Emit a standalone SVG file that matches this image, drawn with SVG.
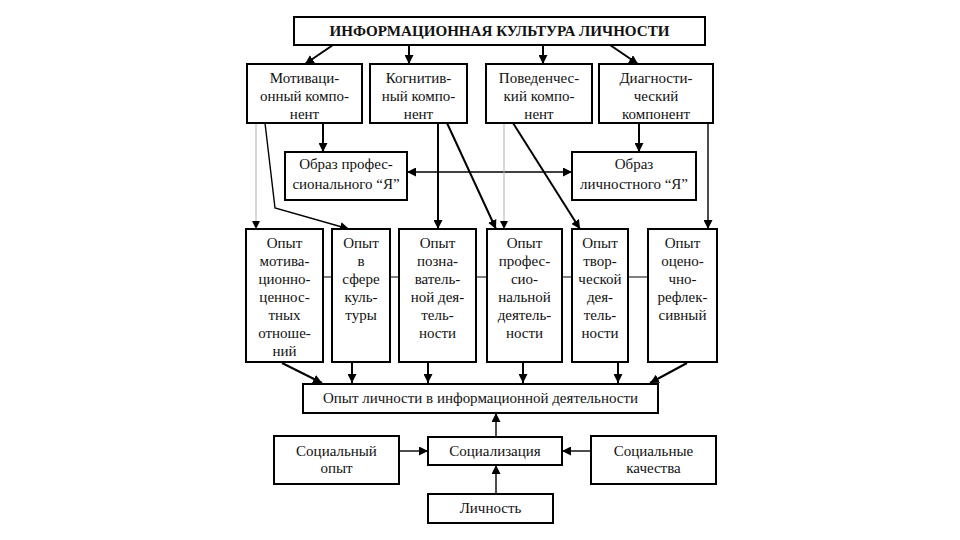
<svg xmlns="http://www.w3.org/2000/svg" width="960" height="540" viewBox="0 0 960 540">
<defs>
<style>
.box{fill:#fff;stroke:#000;stroke-width:2}
.t{font-size:15px;fill:#111;text-anchor:middle}
.b{font-weight:bold}
.c{fill:none;stroke:#000;stroke-width:2}
.m{fill:none;stroke:#000;stroke-width:1.4}
.g{fill:none;stroke:#b0b0b0;stroke-width:1}
</style>
<marker id="ah" viewBox="0 0 10 10" refX="10" refY="5" markerWidth="9" markerHeight="9" markerUnits="userSpaceOnUse" orient="auto-start-reverse">
<path d="M0,0 L10,5 L0,10 z" fill="#000"/>
</marker>
<marker id="ahg" viewBox="0 0 10 10" refX="10" refY="5" markerWidth="8" markerHeight="8" markerUnits="userSpaceOnUse" orient="auto">
<path d="M0,0 L10,5 L0,10 z" fill="#000"/>
</marker>
</defs>
<rect width="960" height="540" fill="#fff"/>
<g id="connectors">
<line class="c" x1="333" y1="45" x2="305" y2="64" marker-end="url(#ah)"/>
<line class="c" x1="409" y1="45" x2="409" y2="64" marker-end="url(#ah)"/>
<line class="c" x1="543" y1="45" x2="543" y2="64" marker-end="url(#ah)"/>
<line class="c" x1="610" y1="45" x2="638" y2="64" marker-end="url(#ah)"/>
<line class="c" x1="323" y1="123" x2="323" y2="152" marker-end="url(#ah)"/>
<line class="c" x1="639" y1="123" x2="639" y2="152" marker-end="url(#ah)"/>
<line class="m" x1="407" y1="172" x2="572" y2="172" marker-start="url(#ah)" marker-end="url(#ah)"/>
<line class="g" x1="256" y1="123" x2="256" y2="229" marker-end="url(#ahg)"/>
<polyline class="m" points="265,123 275,208 349,229" marker-end="url(#ah)"/>
<line class="c" x1="438" y1="123" x2="438" y2="229" marker-end="url(#ah)"/>
<line class="c" x1="447" y1="123" x2="496" y2="229" marker-end="url(#ah)"/>
<line class="g" x1="504" y1="123" x2="504" y2="229" marker-end="url(#ahg)"/>
<line class="c" x1="513" y1="123" x2="580" y2="229" marker-end="url(#ah)"/>
<line class="m" x1="708" y1="123" x2="708" y2="229" marker-end="url(#ah)"/>
<line stroke="#000" stroke-width="1" x1="246" y1="277" x2="717" y2="277"/>
<line class="c" x1="282" y1="363" x2="322" y2="383" marker-end="url(#ah)"/>
<line class="c" x1="352" y1="363" x2="352" y2="383" marker-end="url(#ah)"/>
<line class="c" x1="428" y1="363" x2="428" y2="383" marker-end="url(#ah)"/>
<line class="c" x1="523" y1="363" x2="523" y2="383" marker-end="url(#ah)"/>
<line class="c" x1="618" y1="363" x2="618" y2="383" marker-end="url(#ah)"/>
<line class="c" x1="687" y1="363" x2="650" y2="383" marker-end="url(#ah)"/>
<line class="m" x1="496" y1="437" x2="496" y2="413" marker-end="url(#ah)"/>
<line class="m" x1="399" y1="451" x2="428" y2="451" marker-end="url(#ah)"/>
<line class="m" x1="591" y1="451" x2="562" y2="451" marker-end="url(#ah)"/>
<line class="m" x1="496" y1="494" x2="496" y2="465" marker-end="url(#ah)"/>
</g>
<g id="title"><rect class="box" x="294" y="17" width="411" height="28"/><text class="t b" style="font-family:'Liberation Serif',serif" x="499.5" y="36" textLength="340" lengthAdjust="spacingAndGlyphs">ИНФОРМАЦИОННАЯ КУЛЬТУРА ЛИЧНОСТИ</text></g>
<g id="motiv"><rect class="box" x="247" y="64" width="115" height="59"/><text class="t" style="font-family:'Liberation Serif',serif" x="304.5" y="83"><tspan x="304.5">Мотиваци-</tspan><tspan x="304.5" dy="18">онный компо-</tspan><tspan x="304.5" dy="18">нент</tspan></text></g>
<g id="kogn"><rect class="box" x="370" y="64" width="97" height="59"/><text class="t" style="font-family:'Liberation Serif',serif" x="418.5" y="83"><tspan x="418.5">Когнитив-</tspan><tspan x="418.5" dy="18">ный компо-</tspan><tspan x="418.5" dy="18">нент</tspan></text></g>
<g id="poved"><rect class="box" x="486" y="64" width="106" height="59"/><text class="t" style="font-family:'Liberation Serif',serif" x="539" y="83"><tspan x="539">Поведенчес-</tspan><tspan x="539" dy="18">кий компо-</tspan><tspan x="539" dy="18">нент</tspan></text></g>
<g id="diagn"><rect class="box" x="599" y="64" width="114" height="59"/><text class="t" style="font-family:'Liberation Serif',serif" x="656" y="83"><tspan x="656">Диагности-</tspan><tspan x="656" dy="18">ческий</tspan><tspan x="656" dy="18">компонент</tspan></text></g>
<g id="obraz-prof"><rect class="box" x="285" y="152" width="122" height="48"/><text class="t" style="font-family:'Liberation Serif',serif" x="346" y="169"><tspan x="346">Образ профес-</tspan><tspan x="346" dy="20">сионального “Я”</tspan></text></g>
<g id="obraz-lich"><rect class="box" x="572" y="152" width="124" height="48"/><text class="t" style="font-family:'Liberation Serif',serif" x="634" y="169"><tspan x="634">Образ</tspan><tspan x="634" dy="20">личностного “Я”</tspan></text></g>
<g id="op1"><rect class="box" x="246" y="229" width="77" height="133"/><text class="t" style="font-family:'Liberation Serif',serif" x="284.5" y="248"><tspan x="284.5">Опыт</tspan><tspan x="284.5" dy="18">мотива-</tspan><tspan x="284.5" dy="18">ционно-</tspan><tspan x="284.5" dy="18">ценнос-</tspan><tspan x="284.5" dy="18">тных</tspan><tspan x="284.5" dy="18">отноше-</tspan><tspan x="284.5" dy="18">ний</tspan></text></g>
<g id="op2"><rect class="box" x="332" y="229" width="58" height="133"/><text class="t" style="font-family:'Liberation Serif',serif" x="361" y="248"><tspan x="361">Опыт</tspan><tspan x="361" dy="18">в</tspan><tspan x="361" dy="18">сфере</tspan><tspan x="361" dy="18">куль-</tspan><tspan x="361" dy="18">туры</tspan></text></g>
<g id="op3"><rect class="box" x="399" y="229" width="77" height="133"/><text class="t" style="font-family:'Liberation Serif',serif" x="437.5" y="248"><tspan x="437.5">Опыт</tspan><tspan x="437.5" dy="18">позна-</tspan><tspan x="437.5" dy="18">ватель-</tspan><tspan x="437.5" dy="18">ной дея-</tspan><tspan x="437.5" dy="18">тель-</tspan><tspan x="437.5" dy="18">ности</tspan></text></g>
<g id="op4"><rect class="box" x="487" y="229" width="75" height="133"/><text class="t" style="font-family:'Liberation Serif',serif" x="524.5" y="248"><tspan x="524.5">Опыт</tspan><tspan x="524.5" dy="18">профес-</tspan><tspan x="524.5" dy="18">сио-</tspan><tspan x="524.5" dy="18">нальной</tspan><tspan x="524.5" dy="18">деятель-</tspan><tspan x="524.5" dy="18">ности</tspan></text></g>
<g id="op5"><rect class="box" x="572" y="229" width="56" height="133"/><text class="t" style="font-family:'Liberation Serif',serif" x="600" y="248"><tspan x="600">Опыт</tspan><tspan x="600" dy="18">твор-</tspan><tspan x="600" dy="18">ческой</tspan><tspan x="600" dy="18">дея-</tspan><tspan x="600" dy="18">тель-</tspan><tspan x="600" dy="18">ности</tspan></text></g>
<g id="op6"><rect class="box" x="648" y="229" width="69" height="133"/><text class="t" style="font-family:'Liberation Serif',serif" x="682.5" y="248"><tspan x="682.5">Опыт</tspan><tspan x="682.5" dy="18">оцено-</tspan><tspan x="682.5" dy="18">чно-</tspan><tspan x="682.5" dy="18">рефлек-</tspan><tspan x="682.5" dy="18">сивный</tspan></text></g>
<g id="opyt-lich"><rect class="box" x="303" y="384" width="355" height="29"/><text class="t" style="font-family:'Liberation Serif',serif" x="480.5" y="403" textLength="315" lengthAdjust="spacingAndGlyphs">Опыт личности в информационной деятельности</text></g>
<g id="soc-opyt"><rect class="box" x="274" y="436" width="125" height="48"/><text class="t" style="font-family:'Liberation Serif',serif" x="336.5" y="456"><tspan x="336.5">Социальный</tspan><tspan x="336.5" dy="17">опыт</tspan></text></g>
<g id="socializ"><rect class="box" x="428" y="437" width="134" height="28"/><text class="t" style="font-family:'Liberation Serif',serif" x="495" y="456">Социализация</text></g>
<g id="soc-kach"><rect class="box" x="591" y="436" width="125" height="48"/><text class="t" style="font-family:'Liberation Serif',serif" x="653.5" y="456"><tspan x="653.5">Социальные</tspan><tspan x="653.5" dy="17">качества</tspan></text></g>
<g id="lichnost"><rect class="box" x="428" y="494" width="125" height="29"/><text class="t" style="font-family:'Liberation Serif',serif" x="490.5" y="513">Личность</text></g>
</svg>
